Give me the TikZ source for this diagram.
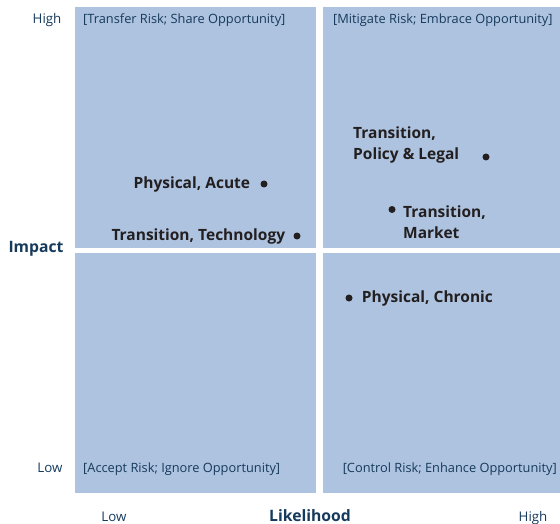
\documentclass[tikz,border=0pt]{standalone}
\usepackage{fontspec}
\setmainfont{Open Sans}
\usepackage{tikz}
\usetikzlibrary{positioning}
\definecolor{quadfill}{RGB}{174,195,224}
\definecolor{axisblue}{RGB}{22,58,92}
\definecolor{dotblack}{RGB}{35,31,32}
\tikzset{
  quad/.style={fill=quadfill, draw=none},
  head/.style={font=\fontsize{12.8}{14}\selectfont, text=axisblue, inner sep=0pt},
  axislabel/.style={font=\fontsize{13.3}{15}\selectfont, text=axisblue, inner sep=0pt},
  axistitle/.style={font=\bfseries\fontsize{15.7}{17}\selectfont, text=axisblue, inner sep=0pt},
  riskdot/.style={circle, fill=dotblack, minimum size=7pt, inner sep=0pt},
  risklabel/.style={font=\bfseries\fontsize{15.5}{21}\selectfont, text=dotblack, inner sep=0pt, align=left}
}

\begin{document}
\begin{tikzpicture}[x=1pt, y=-1pt]
 \useasboundingbox (0,0) rectangle (560,524);
 % quadrants
 \fill[quad] (75,7) rectangle (316,247.5);
 \fill[quad] (323,7) rectangle (560,247.5);
 \fill[quad] (75,253) rectangle (316,493);
 \fill[quad] (323,253) rectangle (560,493);
 % quadrant headings
 \node[head, anchor=west] (TL) at (83,20) {[Transfer Risk; Share Opportunity]};
 \node[head, anchor=west] (TR) at (333,20) {[Mitigate Risk; Embrace Opportunity]};
 \node[head, anchor=west] (BL) at (83,469) {[Accept Risk; Ignore Opportunity]};
 \node[head, anchor=east] (BR) at (557,469) {[Control Risk; Enhance Opportunity]};
 % axes
 \node[axislabel] (IH) at (47,20) {High};
 \node[axislabel] (IL) at (50,468) {Low};
 \node[axistitle] (I) at (36,249) {Impact};
 \node[axislabel, anchor=base] (LL) at (114,521) {Low};
 \node[axistitle, anchor=base] (L) at (310,521) {Likelihood};
 \node[axislabel, anchor=base] (LH) at (533,521) {High};
 % risks
 \node[riskdot] (PA) at (264,184) {};
 \node[risklabel, left=10pt of PA] (PAl) {Physical, Acute};
 \node[riskdot] (TT) at (297,236) {};
 \node[risklabel, left=8pt of TT] (TTl) {Transition, Technology};
 \node[riskdot] (TP) at (486,157) {};
 \node[risklabel, anchor=west] (TPl) at (353,145) {Transition,\\Policy \& Legal};
 \node[riskdot] (TM) at (392,209.5) {};
 \node[risklabel, anchor=west] (TMl) at (403,222) {Transition,\\Market};
 \node[riskdot] (PC) at (349,298) {};
 \node[risklabel, right=9pt of PC] (PCl) {Physical, Chronic};
\end{tikzpicture}
\end{document}
